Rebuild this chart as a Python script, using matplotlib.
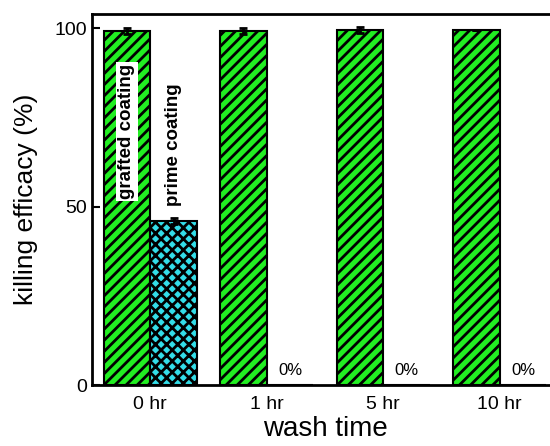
import numpy as np
import matplotlib.pyplot as plt

plt.rcParams['font.family'] = ['Liberation Sans', 'DejaVu Sans']
plt.rcParams['hatch.linewidth'] = 2.0

times = ['0 hr', '1 hr', '5 hr', '10 hr']
grafted = [99.3, 99.2, 99.5, 99.4]
grafted_err = [0.8, 0.8, 0.8, 0.0]
prime = [46.0, 0.0, 0.0, 0.0]
prime_err = [0.8, 0.0, 0.0, 0.0]
zero_labels = ['', '0%', '0%', '0%']

fig = plt.figure(figsize=(5.5, 4.46), dpi=100)
ax = fig.add_axes([92/550, 61/446, 466/550, 371/446])

x = np.arange(len(times))
w = 0.4
ax.bar(x - w/2, grafted, w, color='#22ee22', edgecolor='black', linewidth=1.5,
       hatch='///', yerr=grafted_err, capsize=3,
       error_kw=dict(elinewidth=2, capthick=2, ecolor='black'))
ax.bar(x + w/2, prime, w, color='#33dde8', edgecolor='black', linewidth=1.5,
       hatch='xxx', yerr=prime_err, capsize=3,
       error_kw=dict(elinewidth=2, capthick=2, ecolor='black'))

for xi, lab in zip(x, zero_labels):
    if lab:
        ax.text(xi + w/2, 4, lab, ha='center', va='center', fontsize=12)

ax.text(x[0] - w/2, 71, 'grafted coating', rotation=90, ha='center', va='center',
        fontsize=13.5, fontweight='bold',
        bbox=dict(facecolor='white', edgecolor='none', pad=1.5))
ax.text(x[0] + w/2, 67.5, 'prime coating', rotation=90, ha='center', va='center',
        fontsize=13.5, fontweight='bold')

ax.set_xlim(-0.5, 3.5)
ax.set_ylim(0, 104)
ax.set_xticks(x)
ax.set_xticklabels(times, fontsize=14)
ax.set_yticks([0, 50, 100])
ax.set_yticklabels(['0', '50', '100'], fontsize=14)
ax.tick_params(direction='in', length=6, width=1.5)
ax.tick_params(axis='x', length=0, pad=8)
for s in ax.spines.values():
    s.set_linewidth(2)
ax.set_xlabel('wash time', fontsize=20, labelpad=2)
ax.set_ylabel('killing efficacy (%)', fontsize=19, labelpad=12)

fig.savefig('out.png', dpi=100)
